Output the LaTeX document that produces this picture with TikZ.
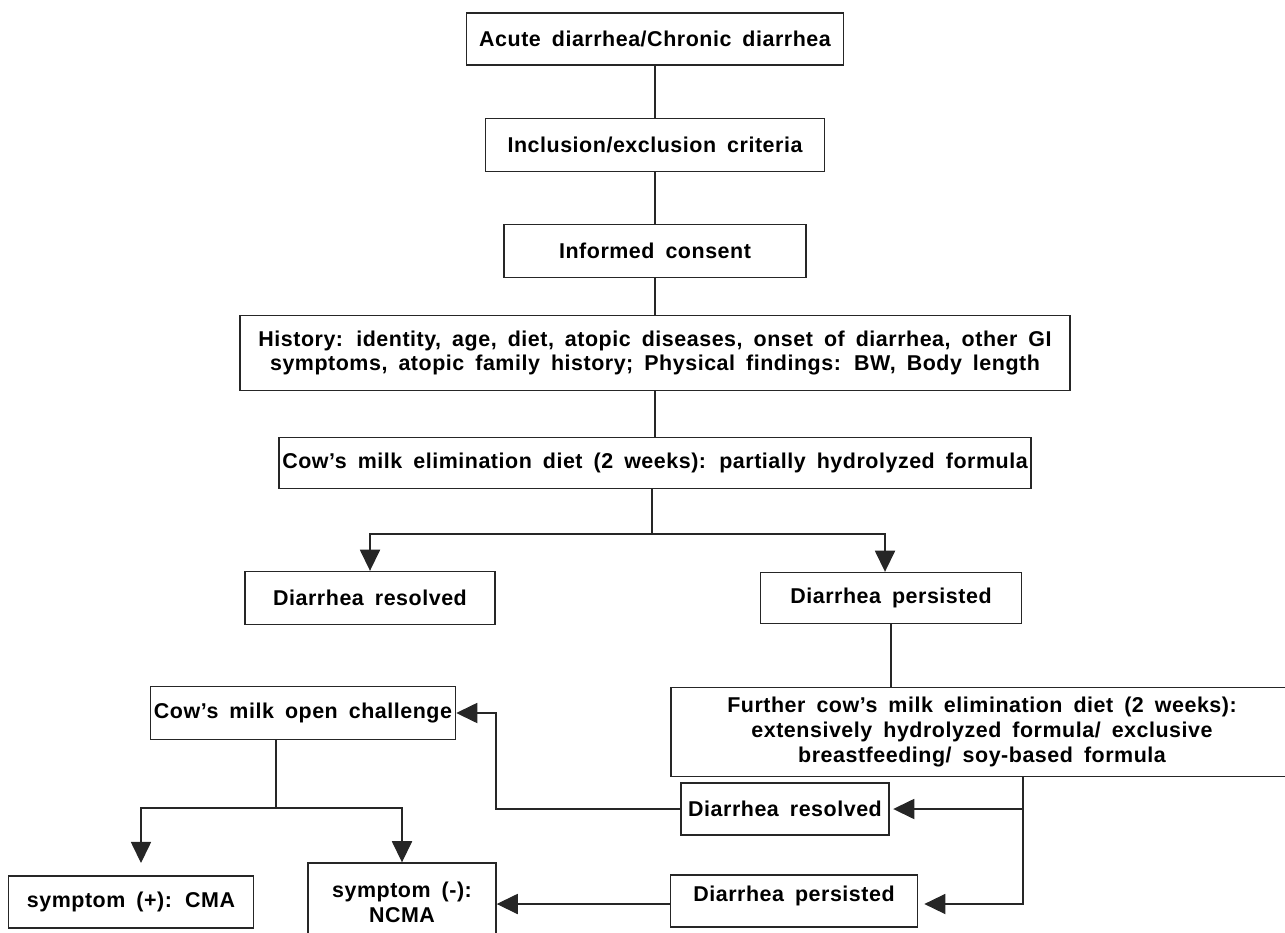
\documentclass[tikz,border=0pt]{standalone}
\usepackage{fontspec}
\setmainfont{Liberation Sans}[WordSpace=1.7,LetterSpace=2.5]
\usepackage{tikz}
\usetikzlibrary{calc}
\usetikzlibrary{arrows.meta}
\newlength{\px}
\setlength{\px}{0.02cm}
\tikzset{
  box/.style={draw=black!85, line width=0.8pt, fill=white, inner sep=2pt, align=center,
    font=\fontsize{12.2}{14.2}\selectfont\bfseries, text=black},
  link/.style={draw=black!85, line width=0.65pt},
  arr/.style={link, -{Triangle[length=12pt,width=11.5pt]}}
}

\begin{document}
\begin{tikzpicture}[x=0.02cm, y=-0.02cm]
        \clip (0,0) rectangle (1285,933);
        % main column
        \node[box, minimum width=377\px, minimum height=52\px] (acute) at (655,39) {Acute diarrhea/Chronic diarrhea};
        \node[box, minimum width=339\px, minimum height=53\px] (incl) at (655,145) {Inclusion/exclusion criteria};
        \node[box, minimum width=302\px, minimum height=53\px] (consent) at (655,251) {Informed consent};
        \node[box, minimum width=830\px, minimum height=75\px] (history) at (655,353) {History: identity, age, diet, atopic diseases, onset of diarrhea, other GI\\symptoms, atopic family history; Physical findings: BW, Body length};
        \node[box, minimum width=740\px, minimum height=51\px] (elim) at (655,463) {Cow’s milk elimination diet (2 weeks): partially hydrolyzed formula};
        % second level
        \node[box, minimum width=250\px, minimum height=53\px] (resolvedL) at (370,598) {Diarrhea resolved};
        \node[box, minimum width=261\px, minimum height=51\px] (persistedR) at (891,598) {Diarrhea persisted};
        % third level
        \node[box, minimum width=305\px, minimum height=53\px] (challenge) at (303,713) {Cow’s milk open challenge};
        \node[box, minimum width=622\px, minimum height=89\px] (further) at (982,732) {Further cow’s milk elimination diet (2 weeks):\\extensively hydrolyzed formula/ exclusive\\breastfeeding/ soy-based formula};
        \node[box, minimum width=208\px, minimum height=52\px] (resolvedR) at (785,809) {Diarrhea resolved};
        % bottom row
        \node[box, minimum width=245\px, minimum height=52\px] (cma) at (131,902) {symptom (+): CMA};
        \node[box, minimum width=188\px, minimum height=78\px] (ncma) at (402,902) {symptom (-):\\NCMA};
        \node[box, minimum width=247\px, minimum height=52\px, text depth=8pt] (persistedB) at (794,901) {Diarrhea persisted};
        % connectors
        \coordinate (fork) at (652,534);
        \coordinate (fork2) at (276,808);
        \coordinate (fork3) at (1023,809);
        \coordinate (back) at (496,809);
        \draw[link] (acute) -- (incl);
        \draw[link] (incl) -- (consent);
        \draw[link] (consent) -- (history);
        \draw[link] (history) -- (elim);
        \draw[link] (elim.south -| fork) -- (fork);
        \draw[arr] (fork) -| (resolvedL.north);
        \draw[arr] (fork) -| ($(persistedR.north)+(-6,0)$);
        \draw[link] ($(resolvedL.south)+(-17,0)$) -- ($(resolvedL.south)+(-17,0)$ |- challenge.north);
        \draw[link] (persistedR.south) -- (persistedR.south |- further.north);
        \draw[link] ($(challenge.south)+(-27,0)$) -- (fork2);
        \draw[arr, shorten >=7pt] (fork2) -| (cma.north -| 141,0);
        \draw[arr] (fork2) -| (ncma.north);
        \draw[link] (further.south -| fork3) -- (fork3);
        \draw[arr, shorten >=2pt] (fork3) -- (resolvedR.east);
        \draw[arr, shorten >=3.5pt] (fork3) |- (persistedB.east |- 0,904);
        \draw[arr] (resolvedR.west) -- (back) |- (challenge.east);
        \draw[arr] (persistedB.west |- 0,904) -- (ncma.east |- 0,904);
\end{tikzpicture}
\end{document}
